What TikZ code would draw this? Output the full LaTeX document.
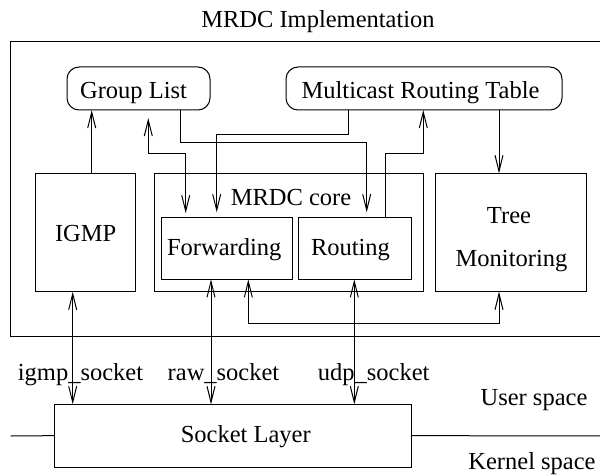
\documentclass[tikz,border=0pt]{standalone}
\usepackage{fontspec}
\setmainfont{Liberation Serif}
\usetikzlibrary{arrows.meta}
\begin{document}
\begin{tikzpicture}[x=1pt,y=-1pt,
  >={Straight Barb[length=16pt,width=8pt]},
  every node/.style={inner sep=0pt, outer sep=0pt},
  txt/.style={anchor=base, font=\fontsize{24.5}{29}\selectfont},
  box/.style={draw, line width=1pt},
  rbox/.style={box, rounded corners=12pt},
  conn/.style={line width=1pt}]
\useasboundingbox (0,0) rectangle (600,476);

% boxes
\node[box, minimum width=610pt, minimum height=294.3pt] (impl) at (315.7,188.85) {};
\node[rbox, minimum width=143pt, minimum height=43pt] (grp) at (138.5,88.5) {};
\node[rbox, minimum width=276pt, minimum height=43pt] (mrt) at (424,88.5) {};
\node[box, minimum width=100pt, minimum height=118.4pt] (igmp) at (85.7,232.5) {};
\node[box, minimum width=269pt, minimum height=118.4pt] (core) at (288.8,232.5) {};
\node[box, minimum width=131.3pt, minimum height=62pt] (fwd) at (226.65,248.3) {};
\node[box, minimum width=112.7pt, minimum height=62pt] (rtg) at (354.65,248.3) {};
\node[box, minimum width=150.3pt, minimum height=118.4pt] (tree) at (510.85,232.5) {};
\node[box, minimum width=356.7pt, minimum height=62.7pt] (sock) at (232.65,435.65) {};

% texts
\node[txt] (title) at (318,28) {MRDC Implementation};
\node[txt] (grpt) at (133.5,98.3) {Group List};
\node[txt] (mrtt) at (420.5,98.3) {Multicast Routing Table};
\node[txt] (igmpt) at (85.7,241) {IGMP};
\node[txt] (coret) at (291,205) {MRDC core};
\node[txt] (fwdt) at (224.2,255) {Forwarding};
\node[txt] (rtgt) at (350.5,255) {Routing};
\node[txt] (treet1) at (509,223) {Tree};
\node[txt] (treet2) at (511.5,266.7) {Monitoring};
\node[txt] (sockt) at (245.8,442) {Socket Layer};
\node[txt] (igmps) at (80.5,380) {igmp\_socket};
\node[txt] (raws) at (223.5,380) {raw\_socket};
\node[txt] (udps) at (373.7,380) {udp\_socket};
\node[txt] (user) at (534,405.5) {User space};
\node[txt] (kern) at (532,469.5) {Kernel space};

% x and y guides
\coordinate (xa) at (91.7,0);
\coordinate (xb) at (148.3,0);
\coordinate (xc) at (185.7,0);
\coordinate (xd) at (180,0);
\coordinate (xe) at (366.7,0);
\coordinate (xf) at (348.3,0);
\coordinate (xg) at (216.7,0);
\coordinate (xh) at (385.7,0);
\coordinate (xi) at (423.3,0);
\coordinate (xj) at (499,0);
\coordinate (xk) at (72.7,0);
\coordinate (xl) at (211,0);
\coordinate (xm) at (354.3,0);
\coordinate (xn) at (248.3,0);
\coordinate (y1) at (0,153.3);
\coordinate (y2) at (0,142.3);
\coordinate (y3) at (0,135);
\coordinate (y4) at (0,154);
\coordinate (y5) at (0,323.3);
\coordinate (hl) at (10.7,436);
\coordinate (hr) at (620,436);

% connectors (upper)
\draw[conn,->] (igmp.north -| xa) -- (grp.south -| xa);
\draw[conn,<->, shorten <=4pt, shorten >=8pt] (fwd.north -| xc) |- (y1 -| xb) -- (grp.south -| xb);
\draw[conn,->, shorten >=5pt] (grp.south -| xd) |- (y2 -| xe) -- (rtg.north -| xe);
\draw[conn,->, shorten >=5pt] (mrt.south -| xf) |- (y3 -| xg) -- (fwd.north -| xg);
\draw[conn,->] (rtg.north -| xh) |- (y4 -| xi) -- (mrt.south -| xi);
\draw[conn,->] (mrt.south -| xj) -- (tree.north -| xj);

% connectors (lower)
\draw[conn,<->] (igmp.south -| xk) -- (sock.north -| xk);
\draw[conn,<->] (fwd.south -| xl) -- (sock.north -| xl);
\draw[conn,<->] (rtg.south -| xm) -- (sock.north -| xm);
\draw[conn,<->] (fwd.south -| xn) |- (y5 -| xj) -- (tree.south -| xj);

% user / kernel boundary
\draw[conn] (hl) -- (sock.west);
\draw[conn] (sock.east) -- (hr);
\end{tikzpicture}
\end{document}
